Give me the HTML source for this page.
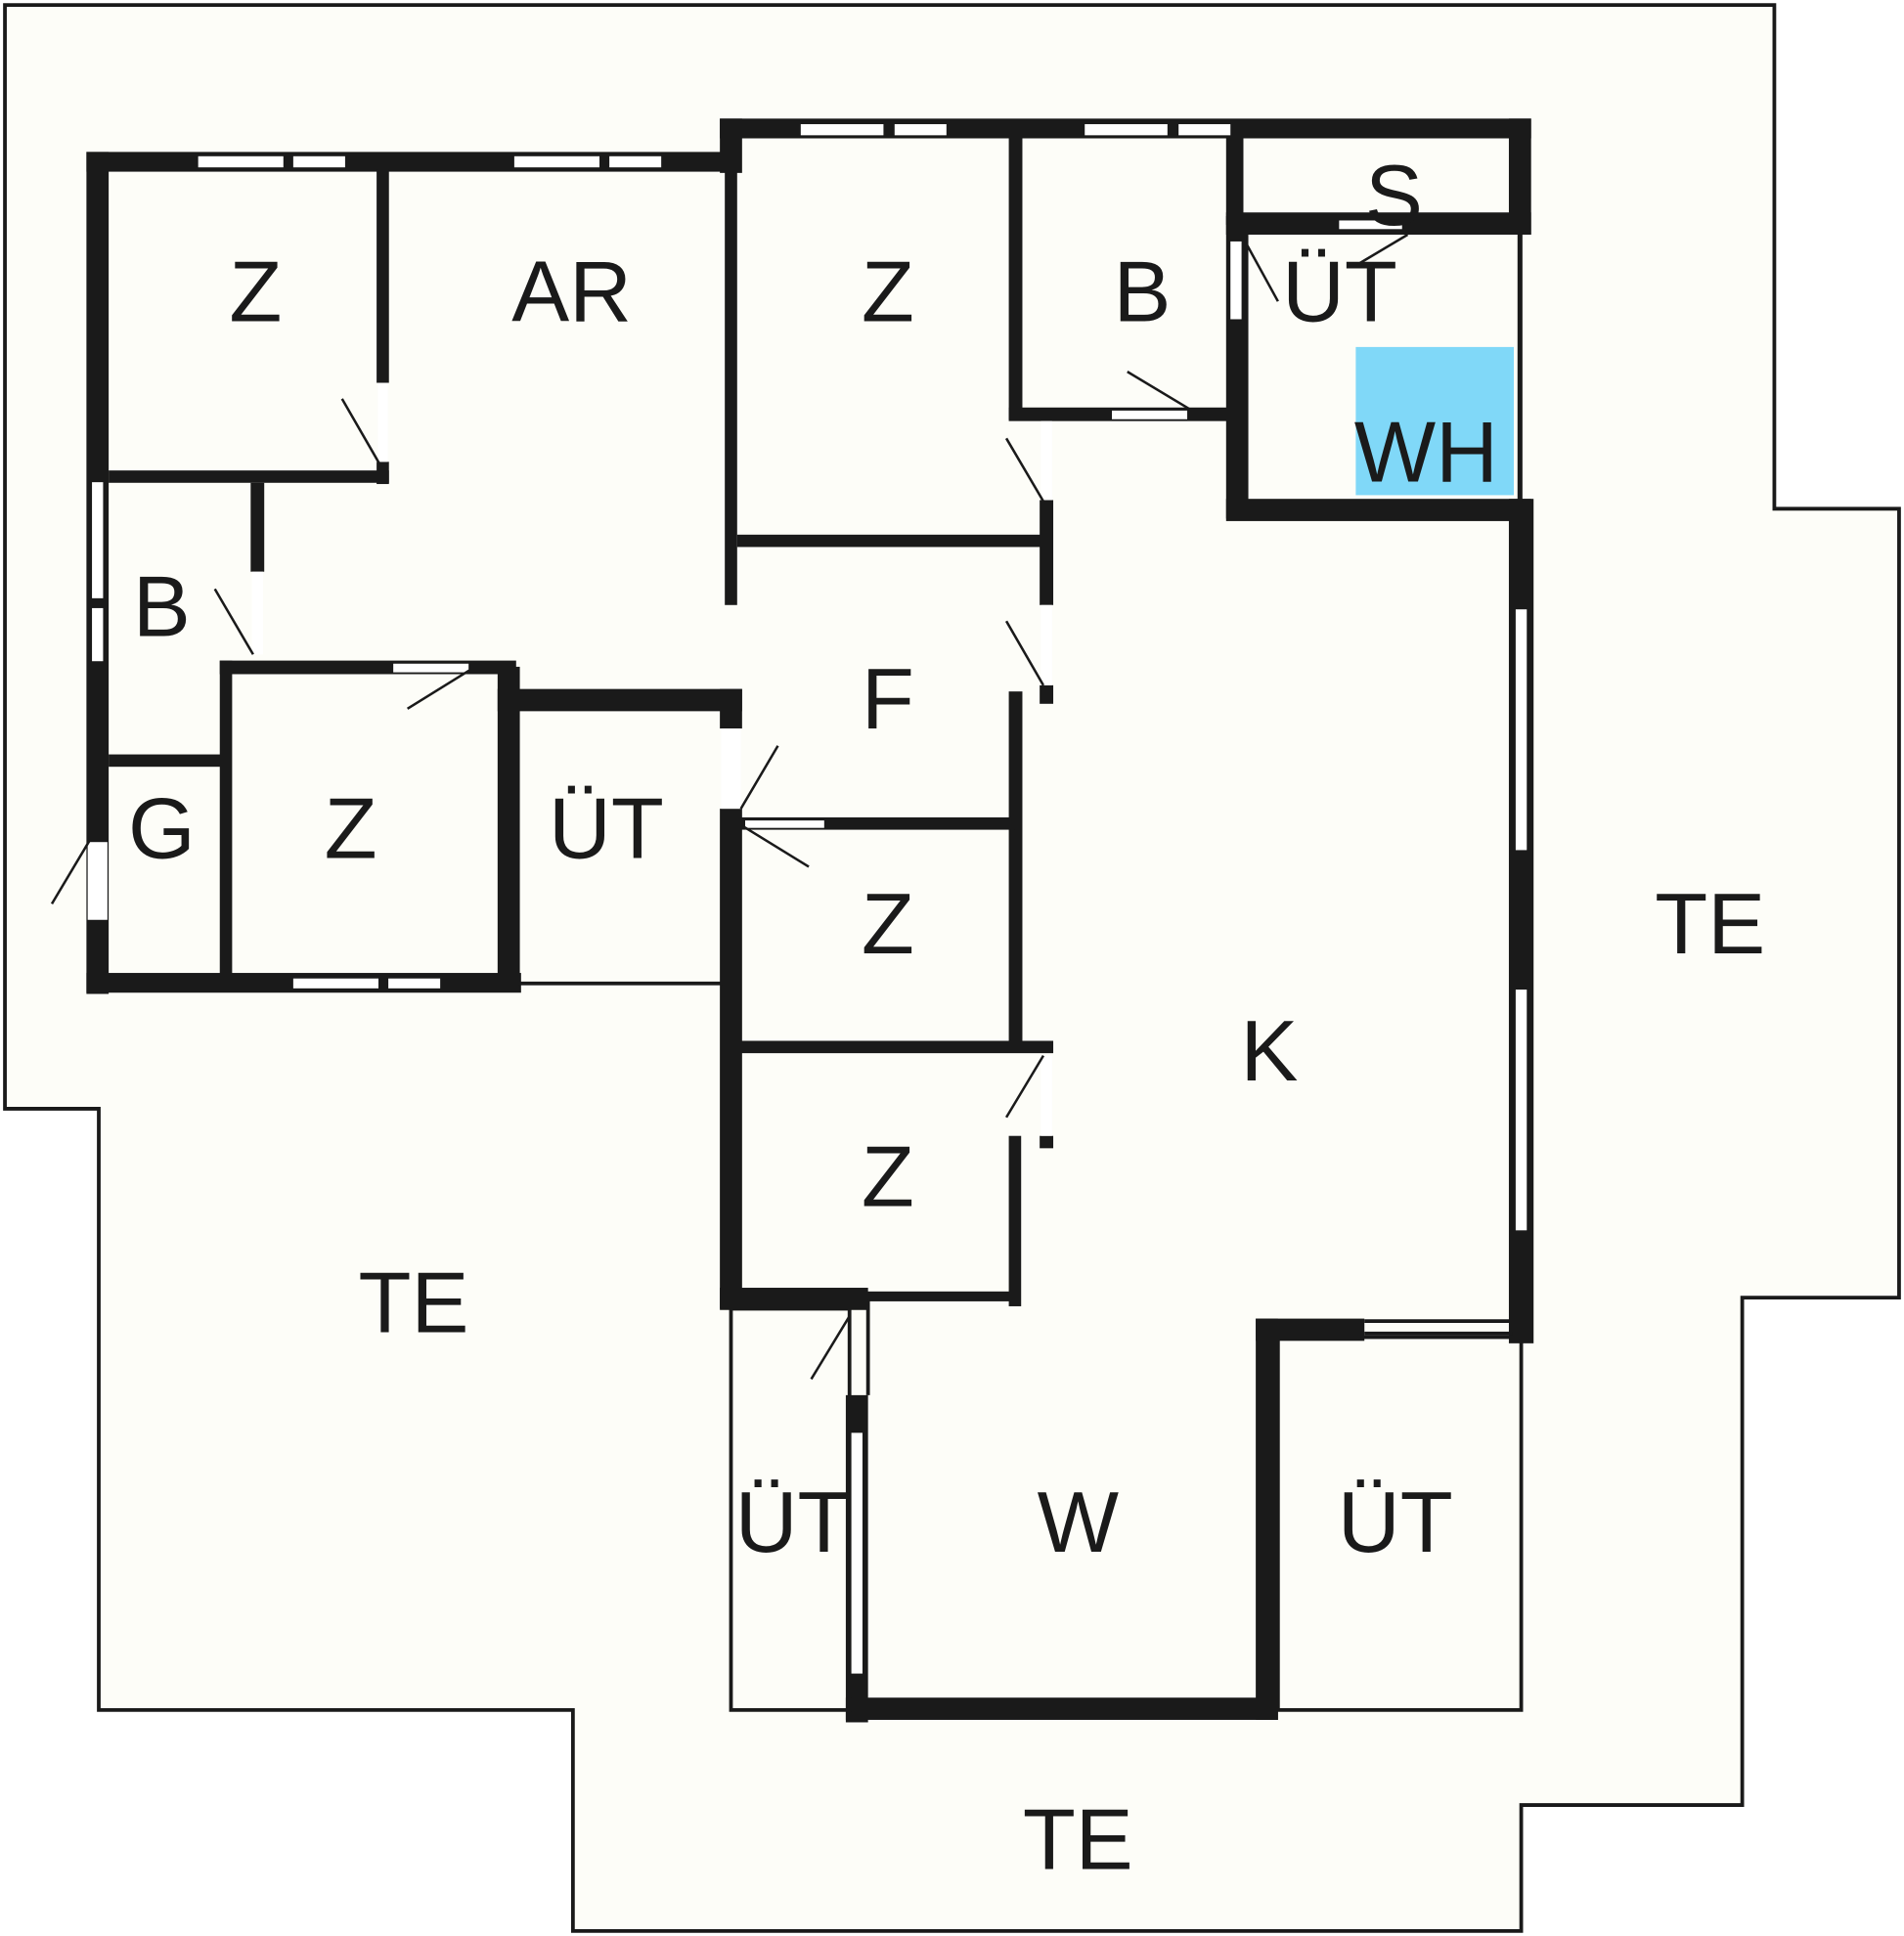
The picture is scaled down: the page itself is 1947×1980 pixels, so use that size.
<!DOCTYPE html>
<html><head><meta charset="utf-8"><style>
html,body{margin:0;padding:0;background:#fff;}
svg{display:block}
text{font-family:"Liberation Sans",sans-serif;font-size:70px;fill:#1a1a1a;text-anchor:middle;}
</style></head><body>
<svg width="1947" height="1980" viewBox="0 0 1542 1568" xmlns="http://www.w3.org/2000/svg">
<rect width="1542" height="1568" fill="#fff"/>
<polygon points="4,4 1437,4 1437,412 1538,412 1538,1051 1411,1051 1411,1462 1232,1462 1232,1564 464,1564 464,1385 80,1385 80,898 4,898" fill="#fdfdf8" stroke="#1a1a1a" stroke-width="3"/>
<rect x="1098" y="281" width="128" height="120" fill="#80d8f8"/>
<g fill="#1a1a1a">
<rect x="70" y="123" width="520" height="16"/>
<rect x="70" y="123" width="18" height="682"/>
<rect x="70" y="788" width="352" height="16"/>
<rect x="305" y="137" width="10" height="173"/>
<rect x="305" y="374" width="10" height="18"/>
<rect x="88" y="381" width="227" height="10"/>
<rect x="203" y="391" width="11" height="72"/>
<rect x="178" y="535" width="240" height="11"/>
<rect x="178" y="535" width="10" height="255"/>
<rect x="88" y="611" width="92" height="10"/>
<rect x="403" y="540" width="18" height="262"/>
<rect x="403" y="558" width="198" height="18"/>
<rect x="583" y="558" width="18" height="32"/>
<rect x="583" y="655" width="18" height="405"/>
<rect x="420" y="795" width="165" height="3"/>
<rect x="583" y="96" width="657" height="16"/>
<rect x="583" y="96" width="18" height="44"/>
<rect x="587" y="112" width="10" height="378"/>
<rect x="597" y="433" width="250" height="10"/>
<rect x="817" y="112" width="11" height="228"/>
<rect x="817" y="330" width="183" height="11"/>
<rect x="993" y="112" width="14" height="70"/>
<rect x="993" y="175" width="18" height="245"/>
<rect x="993" y="172" width="247" height="18"/>
<rect x="1222" y="96" width="18" height="94"/>
<rect x="993" y="404" width="247" height="18"/>
<rect x="1222" y="404" width="20" height="684"/>
<rect x="1229" y="190" width="4" height="216"/>
<rect x="842" y="405" width="11" height="85"/>
<rect x="842" y="555" width="11" height="15"/>
<rect x="817" y="560" width="11" height="290"/>
<rect x="597" y="662" width="225" height="10"/>
<rect x="597" y="843" width="256" height="10"/>
<rect x="842" y="920" width="11" height="10"/>
<rect x="817" y="920" width="10" height="138"/>
<rect x="590" y="1046" width="236" height="8"/>
<rect x="583" y="1043" width="120" height="18"/>
<rect x="685" y="1130" width="18" height="265"/>
<rect x="685" y="1375" width="350" height="18"/>
<rect x="1017" y="1068" width="18" height="325"/>
<rect x="1017" y="1068" width="88" height="18"/>
</g>
<g fill="none" stroke="#1a1a1a" stroke-width="3">
<rect x="592" y="1060" width="96" height="325"/>
<rect x="1035" y="1083" width="197" height="302"/>
<line x1="703" y1="1053" x2="703" y2="1130"/>
<line x1="1105" y1="1070" x2="1225" y2="1070"/>
<line x1="1105" y1="1080" x2="1225" y2="1080"/>
</g>
<g fill="#fff" stroke="#1a1a1a" stroke-width="1">
<rect x="160" y="126" width="70" height="10"/><rect x="237" y="126" width="43" height="10"/>
<rect x="416" y="126" width="70" height="10"/><rect x="493" y="126" width="43" height="10"/>
<rect x="648" y="100" width="68" height="10"/><rect x="724" y="100" width="43" height="10"/>
<rect x="878" y="100" width="68" height="10"/><rect x="954" y="100" width="43" height="10"/>
<rect x="237" y="792" width="70" height="9"/><rect x="314" y="792" width="43" height="9"/>
<rect x="74" y="390" width="10" height="95"/><rect x="74" y="492" width="10" height="44"/>
<rect x="1227" y="493" width="10" height="196"/><rect x="1227" y="801" width="10" height="196"/>
<rect x="689" y="1160" width="10" height="196"/>
<rect x="996" y="195" width="10" height="64"/>
<rect x="318" y="537" width="62" height="8"/>
<rect x="900" y="332" width="62" height="8"/>
<rect x="603" y="664" width="65" height="7"/>
<rect x="1084" y="178" width="52" height="8"/>
</g>
<g fill="#fff">
<rect x="306" y="310" width="8" height="64"/>
<rect x="204" y="463" width="9" height="67"/>
<rect x="843" y="341" width="9" height="64"/>
<rect x="843" y="490" width="9" height="65"/>
<rect x="843" y="855" width="9" height="65"/>
<rect x="584" y="590" width="16" height="65"/>
<rect x="71" y="682" width="16" height="63"/>
</g>
<g stroke="#1a1a1a" stroke-width="2" fill="none">
<line x1="307" y1="375" x2="277" y2="323"/>
<line x1="205" y1="530" x2="174" y2="477"/>
<line x1="73" y1="680" x2="42" y2="732"/>
<line x1="380" y1="543" x2="330" y2="574"/>
<line x1="600" y1="655" x2="630" y2="604"/>
<line x1="603" y1="670" x2="655" y2="702"/>
<line x1="845" y1="406" x2="815" y2="355"/>
<line x1="845" y1="555" x2="815" y2="503"/>
<line x1="845" y1="855" x2="815" y2="905"/>
<line x1="963" y1="331" x2="913" y2="301"/>
<line x1="1007" y1="193" x2="1035" y2="244"/>
<line x1="1098" y1="215" x2="1140" y2="190"/>
<line x1="688" y1="1066" x2="657" y2="1117"/>
<line x1="1153" y1="1080" x2="1225" y2="1080"/>
</g>
<text x="207" y="260">Z</text>
<text x="463" y="260">AR</text>
<text x="719" y="260">Z</text>
<text x="925" y="260">B</text>
<text x="1085" y="260">ÜT</text>
<text x="1129" y="182">S</text>
<text x="1155" y="390">WH</text>
<text x="131" y="515">B</text>
<text x="131" y="695">G</text>
<text x="284" y="695">Z</text>
<text x="491" y="695">ÜT</text>
<text x="719" y="590">F</text>
<text x="719" y="772">Z</text>
<text x="719" y="977">Z</text>
<text x="1028" y="875">K</text>
<text x="1385" y="772">TE</text>
<text x="335" y="1079">TE</text>
<text x="642" y="1257">ÜT</text>
<text x="873" y="1257">W</text>
<text x="1130" y="1257">ÜT</text>
<text x="873" y="1514">TE</text>
</svg>
</body></html>
